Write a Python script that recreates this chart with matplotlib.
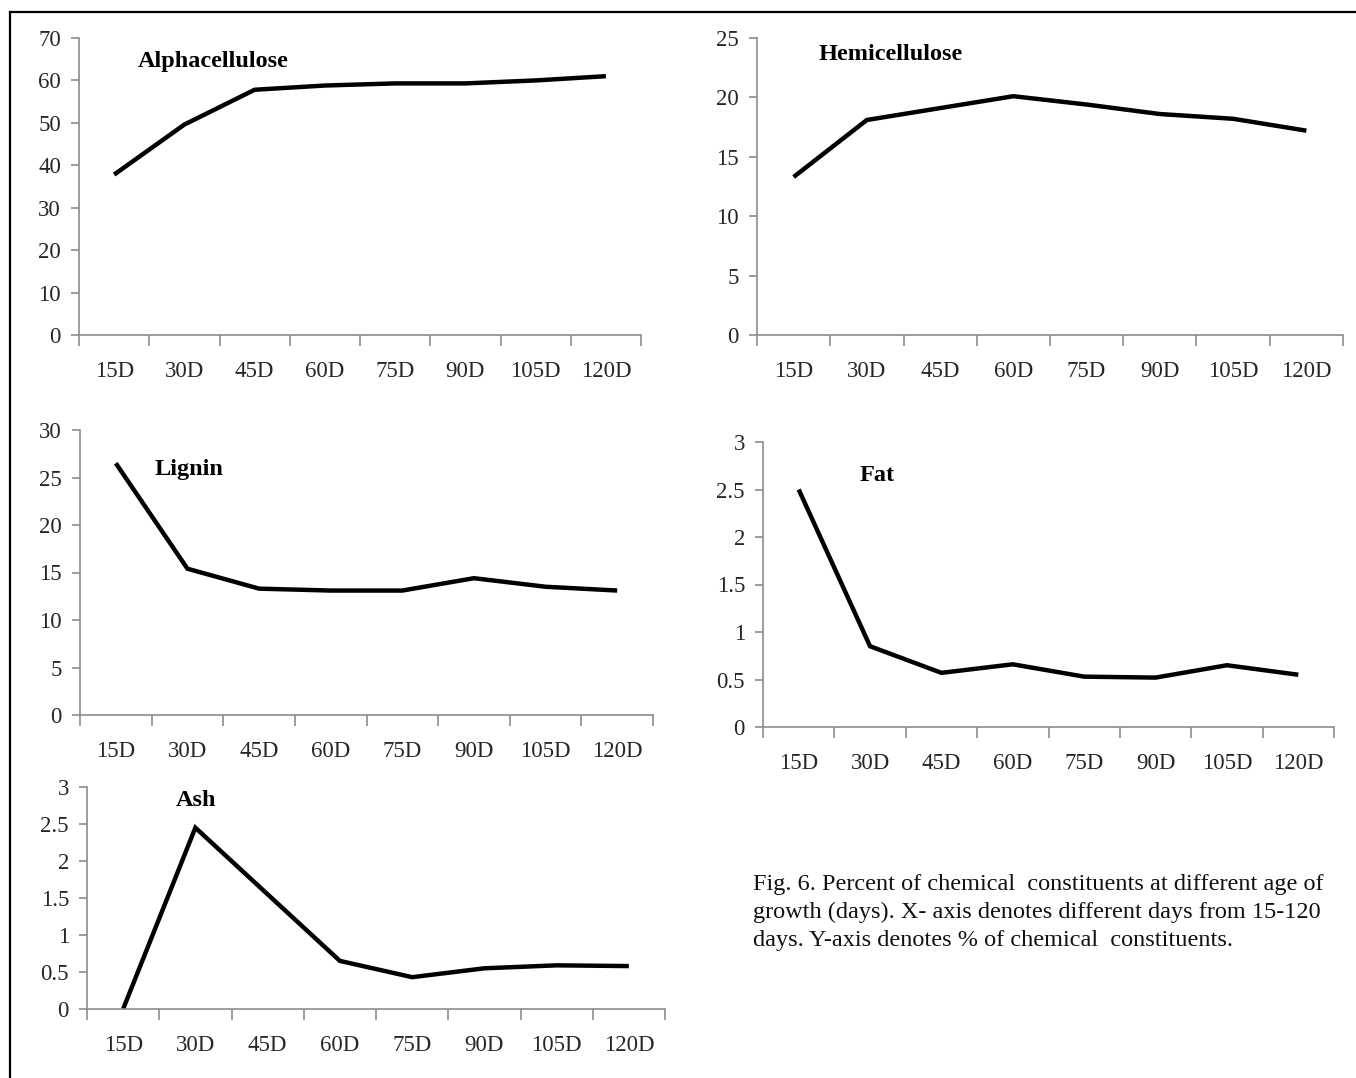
import matplotlib
matplotlib.use("Agg")
import matplotlib.pyplot as plt
from matplotlib.lines import Line2D

plt.rcParams['font.family'] = ['Liberation Serif', 'DejaVu Serif']

days = ["15D", "30D", "45D", "60D", "75D", "90D", "105D", "120D"]

alphacellulose = [37.8, 49.6, 57.8, 58.8, 59.3, 59.3, 60.0, 61.0]
hemicellulose = [13.3, 18.1, 19.1, 20.1, 19.4, 18.6, 18.2, 17.2]
lignin = [26.5, 15.4, 13.3, 13.1, 13.1, 14.4, 13.5, 13.1]
fat = [2.5, 0.85, 0.57, 0.66, 0.53, 0.52, 0.65, 0.55]
ash = [0.0, 2.45, 1.55, 0.65, 0.43, 0.55, 0.59, 0.58]

titles = ["Alphacellulose", "Hemicellulose", "Lignin", "Fat", "Ash"]
ylims = [70, 25, 30, 3, 3]
ysteps = [10, 5, 5, 0.5, 0.5]

caption = ("Fig. 6. Percent of chemical  constituents at different age of\n"
           "growth (days). X- axis denotes different days from 15-120\n"
           "days. Y-axis denotes % of chemical  constituents.")

W, H = 1356, 1078
fig = plt.figure(figsize=(W / 100, H / 100), dpi=100)

# panel pixel boxes: left, right, top, bottom ; title pixel position (x, y)
boxes = [
    (79, 641, 38, 335),
    (757, 1343, 38, 335),
    (80, 653, 430, 715),
    (763, 1334, 442, 727),
    (87, 665, 787, 1009),
]
title_pos = [(138, 61), (819, 55), (155, 469), (860, 476), (176, 800)]
series = [alphacellulose, hemicellulose, lignin, fat, ash]

spine_col = "#8c8c8c"
tick_col = "#262626"

for (l, r, t, b), title, data, ymax, ystep, (tx, ty) in zip(
        boxes, titles, series, ylims, ysteps, title_pos):
    ax = fig.add_axes([l / W, 1 - b / H, (r - l) / W, (b - t) / H])
    xs = [i + 0.5 for i in range(len(days))]
    ax.plot(xs, data, color="black", lw=3.2, solid_joinstyle="miter",
            solid_capstyle="butt", clip_on=False)
    ax.set_xlim(0, len(days))
    ax.set_ylim(0, ymax)
    n = int(round(ymax / ystep))
    yt = [ystep * k for k in range(n + 1)]
    ax.set_yticks(yt)
    ax.set_yticklabels([("%g" % v) for v in yt])
    ax.set_xticks(range(len(days) + 1))
    ax.set_xticklabels([])
    ax.set_xticks(xs, minor=True)
    ax.set_xticklabels(days, minor=True)
    ax.tick_params(axis="x", which="major", direction="out", length=8,
                   width=1.2, color=spine_col)
    ax.tick_params(axis="x", which="minor", length=0, pad=19,
                   labelsize=16.5, labelcolor=tick_col)
    ax.tick_params(axis="y", direction="out", length=6, width=1.2,
                   color=spine_col, labelsize=16.5, labelcolor=tick_col, pad=7)
    for s in ["top", "right"]:
        ax.spines[s].set_visible(False)
    for s in ["left", "bottom"]:
        ax.spines[s].set_color(spine_col)
        ax.spines[s].set_linewidth(1.2)
    ax.patch.set_alpha(0)
    fig.text(tx / W, 1 - ty / H, title, fontsize=17.5, fontweight="bold",
             ha="left", va="center", color="black")

fig.text(753 / W, 1 - 874 / H, caption, fontsize=17.5, ha="left", va="top",
         linespacing=1.42, color="#111111")

# outer frame (left and top edges visible)
fig.add_artist(Line2D([9.5 / W, 9.5 / W], [0, 1 - 11.5 / H],
                      transform=fig.transFigure, color="black", lw=1.6))
fig.add_artist(Line2D([9.5 / W, 1], [1 - 11.5 / H, 1 - 11.5 / H],
                      transform=fig.transFigure, color="black", lw=1.6))

fig.savefig("out.png", dpi=100, facecolor="white")
